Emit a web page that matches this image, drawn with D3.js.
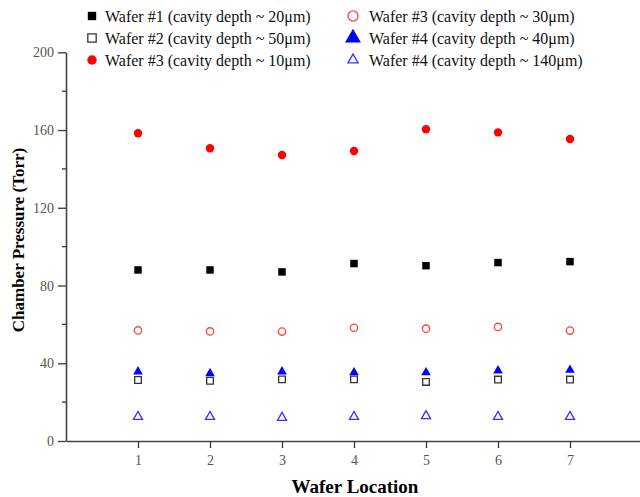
<!DOCTYPE html>
<html><head><meta charset="utf-8">
<script src="https://cdn.jsdelivr.net/npm/d3@7"></script>
<style>
html,body{margin:0;padding:0;background:#fff;}
svg{display:block;font-family:"Liberation Serif","Times New Roman",serif;}
</style></head>
<body>
<svg id="chart" width="640" height="497"></svg>
<script>
// ---- data ----
const locations = [1, 2, 3, 4, 5, 6, 7];
const wafer1_20um  = [88.0, 88.0, 87.0, 91.3, 90.2, 91.8, 92.3];
const wafer2_50um  = [31.4, 31.0, 31.7, 31.7, 30.4, 31.6, 31.6];
const wafer3_10um  = [158.3, 150.6, 147.2, 149.2, 160.4, 158.8, 155.4];
const wafer3_30um  = [56.9, 56.4, 56.3, 58.3, 57.8, 58.7, 56.8];
const wafer4_40um  = [35.7, 34.8, 35.7, 35.2, 35.2, 36.2, 36.5];
const wafer4_140um = [12.5, 12.5, 12.0, 12.5, 12.9, 12.5, 12.5];
const seriesNames = [
  "Wafer #1 (cavity depth ~ 20\u03bcm)",
  "Wafer #2 (cavity depth ~ 50\u03bcm)",
  "Wafer #3 (cavity depth ~ 10\u03bcm)",
  "Wafer #3 (cavity depth ~ 30\u03bcm)",
  "Wafer #4 (cavity depth ~ 40\u03bcm)",
  "Wafer #4 (cavity depth ~ 140\u03bcm)"
];
const yMajorTicks = [0, 40, 80, 120, 160, 200];
const yMinorTicks = [20, 60, 100, 140, 180];
const xTicks = [1, 2, 3, 4, 5, 6, 7];

// ---- styles ----
const styles = [
  {type: d3.symbolSquare,   size: 56, fill: "#000", stroke: "none", sw: 0},
  {type: d3.symbolSquare,   size: 44, fill: "none", stroke: "#333", sw: 1.3},
  {type: d3.symbolCircle,   size: 56, fill: "#f00", stroke: "none", sw: 0},
  {type: d3.symbolCircle,   size: 42, fill: "none", stroke: "#f44", sw: 1.3},
  {type: d3.symbolTriangle, size: 40, fill: "#00f", stroke: "none", sw: 0},
  {type: d3.symbolTriangle, size: 36, fill: "none", stroke: "#33f", sw: 1.3}
];
const allSeries = [wafer1_20um, wafer2_50um, wafer3_10um, wafer3_30um, wafer4_40um, wafer4_140um];

const svg = d3.select("#chart");
const x = d3.scaleLinear().domain([0, 8]).range([66, 642]);
const y = d3.scaleLinear().domain([0, 200]).range([441, 52.3]);
const axisColor = "#444";

// y axis
const yAxis = svg.append("g").attr("transform", "translate(66,0)")
  .call(d3.axisLeft(y).tickValues(yMajorTicks).tickSize(8).tickSizeOuter(0).tickPadding(4).tickFormat(d3.format("d")));
yAxis.append("g").selectAll("line").data(yMinorTicks).join("line")
  .attr("x1", -4).attr("x2", 0).attr("y1", d => y(d)).attr("y2", d => y(d));
// x axis
const xAxis = svg.append("g").attr("transform", "translate(0,441)")
  .call(d3.axisBottom(x).tickValues(xTicks).tickSize(7).tickSizeOuter(0).tickPadding(7).tickFormat(d3.format("d")));

[yAxis, xAxis].forEach(g => {
  g.select(".domain").attr("stroke", axisColor).attr("stroke-width", 1.6);
  g.selectAll("line").attr("stroke", axisColor).attr("stroke-width", 1.4);
  g.selectAll("text").attr("fill", "#555").style("font-size", "14px").style("font-family", "Liberation Serif, serif");
});

// axis titles
svg.append("text").attr("x", 355).attr("y", 493).attr("text-anchor", "middle")
  .style("font-size", "19px").style("font-weight", "bold").attr("fill", "#000").text("Wafer Location");
svg.append("text").attr("transform", "translate(24,240) rotate(-90)").attr("text-anchor", "middle")
  .style("font-size", "17px").style("font-weight", "bold").attr("fill", "#000").text("Chamber Pressure (Torr)");

// points
allSeries.forEach((vals, i) => {
  const s = styles[i];
  svg.append("g").selectAll("path").data(vals).join("path")
    .attr("d", d3.symbol().type(s.type).size(s.size))
    .attr("transform", (d, j) => `translate(${x(locations[j])},${y(d)})`)
    .attr("fill", s.fill).attr("stroke", s.stroke).attr("stroke-width", s.sw);
});

// legend
const legendPos = [
  {mx: 92, tx: 105, cy: 16}, {mx: 92, tx: 105, cy: 38}, {mx: 92, tx: 105, cy: 60},
  {mx: 353, tx: 369, cy: 16}, {mx: 353, tx: 369, cy: 38}, {mx: 353, tx: 369, cy: 60}
];
const legendSizes = [70, 70, 70, 80, 110, 45];
seriesNames.forEach((name, i) => {
  const s = styles[i], p = legendPos[i];
  svg.append("path").attr("d", d3.symbol().type(s.type).size(legendSizes[i])())
    .attr("transform", `translate(${p.mx},${p.cy})`)
    .attr("fill", s.fill).attr("stroke", s.stroke).attr("stroke-width", s.sw);
  svg.append("text").attr("x", p.tx).attr("y", p.cy).attr("dy", "0.35em")
    .style("font-size", "16px").attr("fill", "#111").text(name);
});
</script>
</body></html>
